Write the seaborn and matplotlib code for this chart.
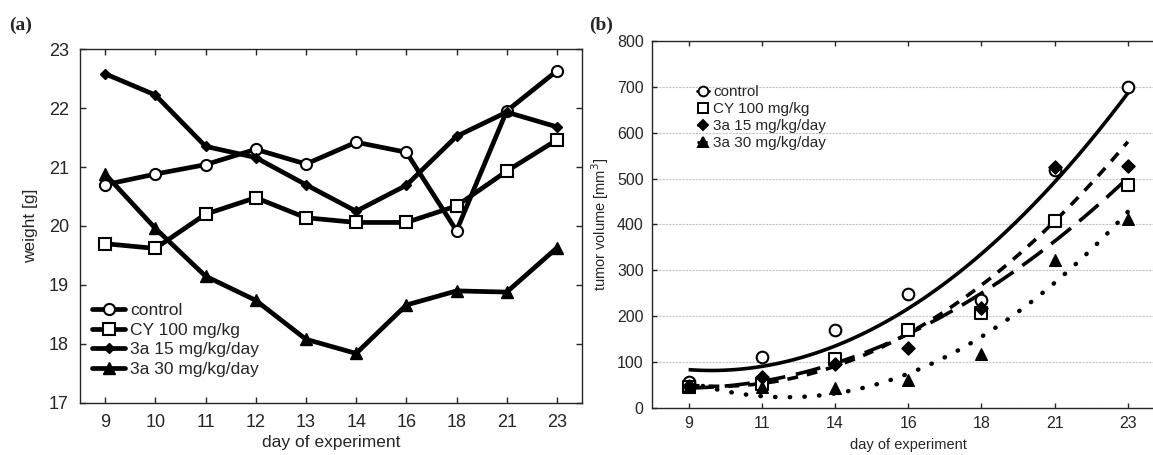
import matplotlib
matplotlib.use("Agg")
import matplotlib.pyplot as plt
from matplotlib.lines import Line2D
import seaborn as sns
import numpy as np

# panel (a): body weight
days_a = ["9", "10", "11", "12", "13", "14", "16", "18", "21", "23"]
w_control = [20.70, 20.88, 21.04, 21.30, 21.05, 21.42, 21.25, 19.92, 21.95, 22.63]
w_cy100 = [19.70, 19.62, 20.20, 20.48, 20.14, 20.06, 20.06, 20.34, 20.93, 21.46]
w_3a15 = [22.58, 22.22, 21.35, 21.16, 20.70, 20.25, 20.69, 21.52, 21.93, 21.68]
w_3a30 = [20.88, 19.96, 19.15, 18.74, 18.08, 17.84, 18.66, 18.90, 18.88, 19.63]

# panel (b): tumor volume
days_b = ["9", "11", "14", "16", "18", "21", "23"]
v_control = [56, 112, 169, 249, 236, 519, 700]
v_cy100 = [45, 52, 107, 171, 206, 408, 487]
v_3a15 = [49, 67, 95, 131, 217, 525, 528]
v_3a30 = [45, 45, 43, 60, 118, 322, 412]

labels = ["control", "CY 100 mg/kg", "3a 15 mg/kg/day", "3a 30 mg/kg/day"]

sns.set_theme(style="ticks")
plt.rcParams["font.family"] = ["Liberation Sans", "DejaVu Sans"]
plt.rcParams["xtick.direction"] = "in"
plt.rcParams["ytick.direction"] = "in"

fig = plt.figure(figsize=(11.53, 4.55), dpi=100)
ax1 = fig.add_axes([0.0694, 0.1143, 0.4354, 0.778])
ax2 = fig.add_axes([0.5655, 0.1033, 0.4444, 0.8066])

# ---- panel (a)
styles_a = [
    dict(marker="o", ms=8, mfc="white", mew=1.5),
    dict(marker="s", ms=8, mfc="white", mew=1.5),
    dict(marker="D", ms=5, mfc="black", mew=1),
    dict(marker="^", ms=8, mfc="black", mew=1),
]
idx_a = np.arange(len(days_a))
for vals, lab, st in zip([w_control, w_cy100, w_3a15, w_3a30], labels, styles_a):
    sns.lineplot(x=idx_a, y=vals, ax=ax1, color="black", lw=3.4, label=lab,
                 mec="black", **st)

ax1.set_xlim(-0.5, len(days_a) - 0.5)
ax1.set_ylim(17, 23)
ax1.set_xticks(idx_a)
ax1.set_xticklabels(days_a)
ax1.set_yticks(range(17, 24))
ax1.tick_params(labelsize=13, top=True, right=True, length=4, width=1, pad=8)
ax1.set_xlabel("day of experiment", fontsize=12.5, labelpad=3)
ax1.set_ylabel("weight [g]", fontsize=12.5, labelpad=8)
ax1.legend(loc="lower left", bbox_to_anchor=(0.0, 0.04), frameon=False,
           fontsize=12.5, handlelength=1.9, handletextpad=0.3,
           labelspacing=0.25, borderaxespad=0.3)
for s in ax1.spines.values():
    s.set_linewidth(1)

# ---- panel (b)
idx_b = np.arange(len(days_b))
line_styles = ["-", (0, (7, 3)), (0, (3, 2.5)), (0, (0.1, 3.2))]
caps = ["butt", "butt", "butt", "round"]
pt_styles = [
    dict(marker="o", s=70, facecolor="white", edgecolor="black", linewidth=1.5),
    dict(marker="s", s=70, facecolor="white", edgecolor="black", linewidth=1.5),
    dict(marker="D", s=45, facecolor="black", edgecolor="black", linewidth=1),
    dict(marker="^", s=70, facecolor="black", edgecolor="black", linewidth=1),
]
for vals, ls, cap in zip([v_control, v_cy100, v_3a15, v_3a30], line_styles, caps):
    sns.regplot(x=idx_b, y=vals, ax=ax2, order=2, ci=None, scatter=False,
                color="black",
                line_kws=dict(lw=2.6 if cap == "butt" else 3.2, ls=ls,
                              dash_capstyle=cap, solid_capstyle="butt"))
for vals, st in zip([v_control, v_cy100, v_3a15, v_3a30], pt_styles):
    sns.scatterplot(x=idx_b, y=vals, ax=ax2, zorder=5, **st)

ax2.set_xlim(-0.5, len(days_b) - 0.5)
ax2.set_ylim(0, 800)
ax2.set_xticks(idx_b)
ax2.set_xticklabels(days_b)
ax2.set_yticks(range(0, 801, 100))
ax2.yaxis.grid(True, color="#c4c4c4", ls=(0, (2, 1)), lw=0.8)
ax2.set_axisbelow(True)
ax2.tick_params(labelsize=11.5, top=True, right=False, length=3.5, width=1, pad=6)
ax2.set_xlabel("day of experiment", fontsize=10.5, labelpad=5)
ax2.set_ylabel("tumor volume [mm$^3$]", fontsize=10.5, labelpad=4)
ax2.spines["right"].set_visible(False)
for s in ax2.spines.values():
    s.set_linewidth(1)

handles = [
    Line2D([], [], color="black", lw=2, ls=ls, marker=m, ms=ms, mfc=fc, mec="black", mew=1.4)
    for ls, m, ms, fc in zip(["-", "--", "--", ":"], ["o", "s", "D", "^"],
                             [7, 7, 5, 7], ["white", "white", "black", "black"])
]
ax2.legend(handles, labels, loc="upper left", bbox_to_anchor=(0.075, 0.896),
           frameon=False, fontsize=11, handlelength=0.8, handletextpad=0.3,
           labelspacing=0.2, borderaxespad=0)

fig.text(0.008, 0.935, "(a)", fontsize=14, fontweight="bold",
         family=["Liberation Serif", "DejaVu Serif"])
fig.text(0.511, 0.935, "(b)", fontsize=14, fontweight="bold",
         family=["Liberation Serif", "DejaVu Serif"])

fig.savefig("out.png", dpi=100)
